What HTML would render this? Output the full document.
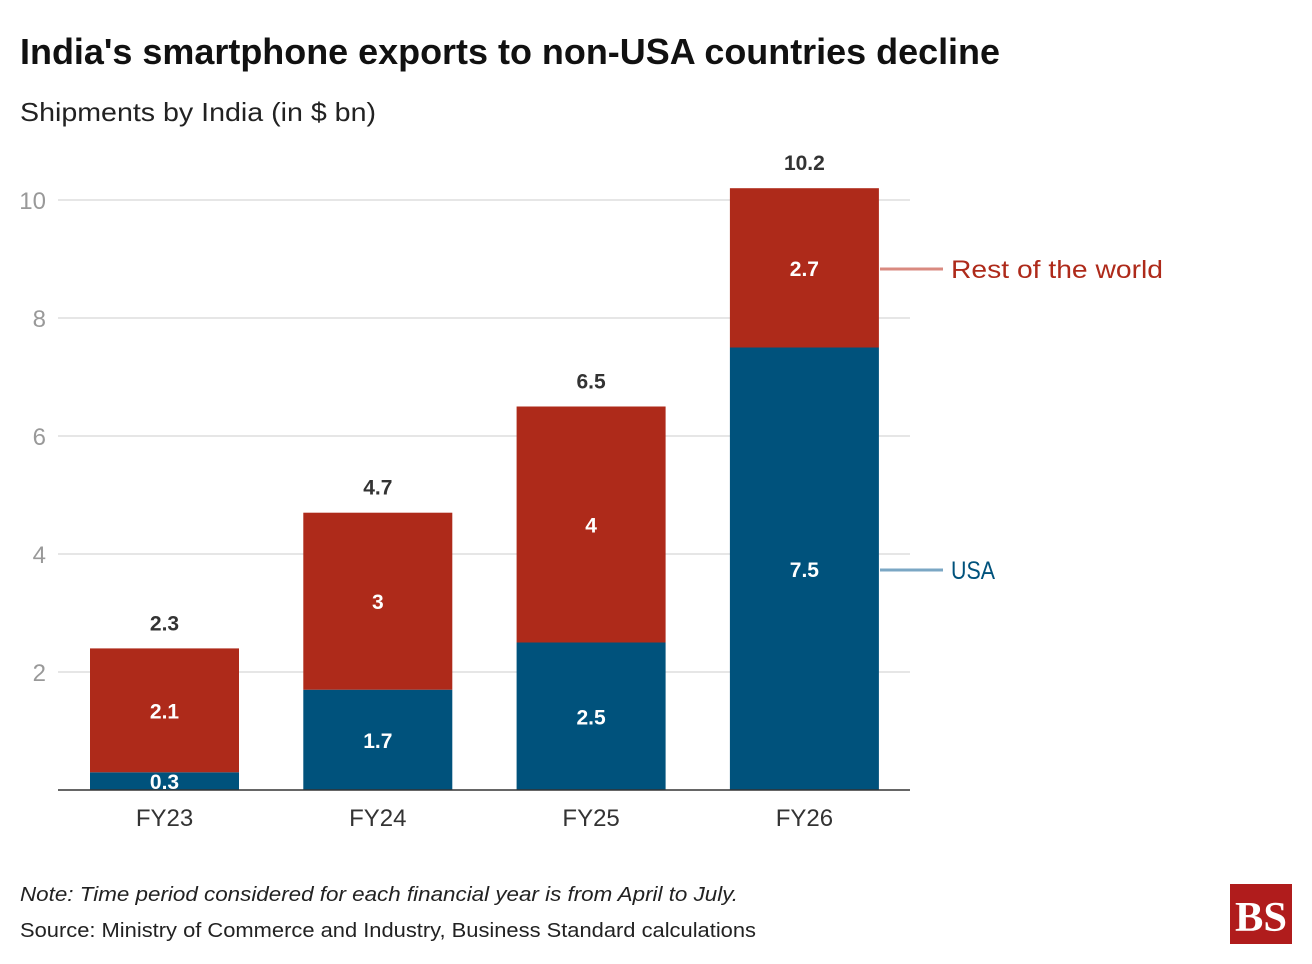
<!DOCTYPE html>
<html><head><meta charset="utf-8"><style>
body{margin:0;background:#fff;}
svg{display:block;font-family:"Liberation Sans",sans-serif;}
</style></head><body>
<svg id="chart" width="1312" height="964" viewBox="0 0 1312 964">
<text x="20" y="64" font-size="36" font-weight="bold" fill="#111" textLength="980" lengthAdjust="spacingAndGlyphs">India's smartphone exports to non-USA countries decline</text>
<text x="20" y="121" font-size="26" fill="#222" textLength="356" lengthAdjust="spacingAndGlyphs">Shipments by India (in $ bn)</text>
<g id="grid"></g><g id="bars"></g><g id="labels"></g>
<line x1="58" x2="910" y1="790" y2="790" stroke="#333" stroke-width="1.5"/>
<line x1="880" x2="943" y1="269" y2="269" stroke="#d98a80" stroke-width="3"/>
<text x="951" y="278" font-size="25" fill="#ae2a1a" textLength="212" lengthAdjust="spacingAndGlyphs">Rest of the world</text>
<line x1="880" x2="943" y1="570" y2="570" stroke="#7ba7c4" stroke-width="3"/>
<text x="951" y="579" font-size="25" fill="#00527c" textLength="44" lengthAdjust="spacingAndGlyphs">USA</text>
<text x="20" y="901" font-size="20" font-style="italic" fill="#222" textLength="718" lengthAdjust="spacingAndGlyphs">Note: Time period considered for each financial year is from April to July.</text>
<text x="20" y="937" font-size="20" fill="#222" textLength="736" lengthAdjust="spacingAndGlyphs">Source: Ministry of Commerce and Industry, Business Standard calculations</text>
<g>
<rect x="1230" y="884" width="62" height="60" fill="#b01c1c"/>
<text x="1261" y="931" font-size="42" font-family="Liberation Serif,serif" font-weight="bold" fill="#fff" text-anchor="middle" textLength="52" lengthAdjust="spacingAndGlyphs">BS</text>
</g>
</svg>
<script>
const categories=["FY23","FY24","FY25","FY26"];
const usa=[0.3,1.7,2.5,7.5];
const rest=[2.1,3,4,2.7];
const totals=["2.3","4.7","6.5","10.2"];
const yTicks=[2,4,6,8,10];
const NS="http://www.w3.org/2000/svg";
const y=v=>790-v*59;
const x=i=>90+i*213.3;
const bw=149;
function mk(tag,attrs,parent,txt){const e=document.createElementNS(NS,tag);for(const k in attrs)e.setAttribute(k,attrs[k]);if(txt!==undefined)e.textContent=txt;document.getElementById(parent).appendChild(e);return e;}
yTicks.forEach(t=>{
 const l=mk("line",{x1:58,x2:910,y1:y(t),y2:y(t),stroke:"#ddd","stroke-width":1.5},"grid");
 
 
 const tx=mk("text",{x:46,y:y(t)+9,"font-size":24,fill:"#999","text-anchor":"end"},"grid",t);
 
 
});
categories.forEach((c,i)=>{
 const cx=x(i)+bw/2;
 const b1=mk("rect",{x:x(i),y:y(usa[i]),width:bw,height:y(0)-y(usa[i]),fill:"#00527c"},"bars");
 
 
 const top=usa[i]+rest[i];
 const b2=mk("rect",{x:x(i),y:y(top),width:bw,height:y(usa[i])-y(top),fill:"#ae2a1a"},"bars");
 
 
 const l1=mk("text",{x:cx,y:(y(0)+y(usa[i]))/2+8,"font-size":21,"font-weight":"bold",fill:"#fff","text-anchor":"middle"},"labels",String(usa[i]));
 
 
 const l2=mk("text",{x:cx,y:(y(usa[i])+y(top))/2+8,"font-size":21,"font-weight":"bold",fill:"#fff","text-anchor":"middle"},"labels",String(rest[i]));
 
 
 const l3=mk("text",{x:cx,y:y(top)-18,"font-size":21,"font-weight":"bold",fill:"#333","text-anchor":"middle"},"labels",totals[i]);
 
 
 const xl=mk("text",{x:cx,y:826,"font-size":24,fill:"#333","text-anchor":"middle"},"labels",c);
 
 
});
</script>
</body></html>
